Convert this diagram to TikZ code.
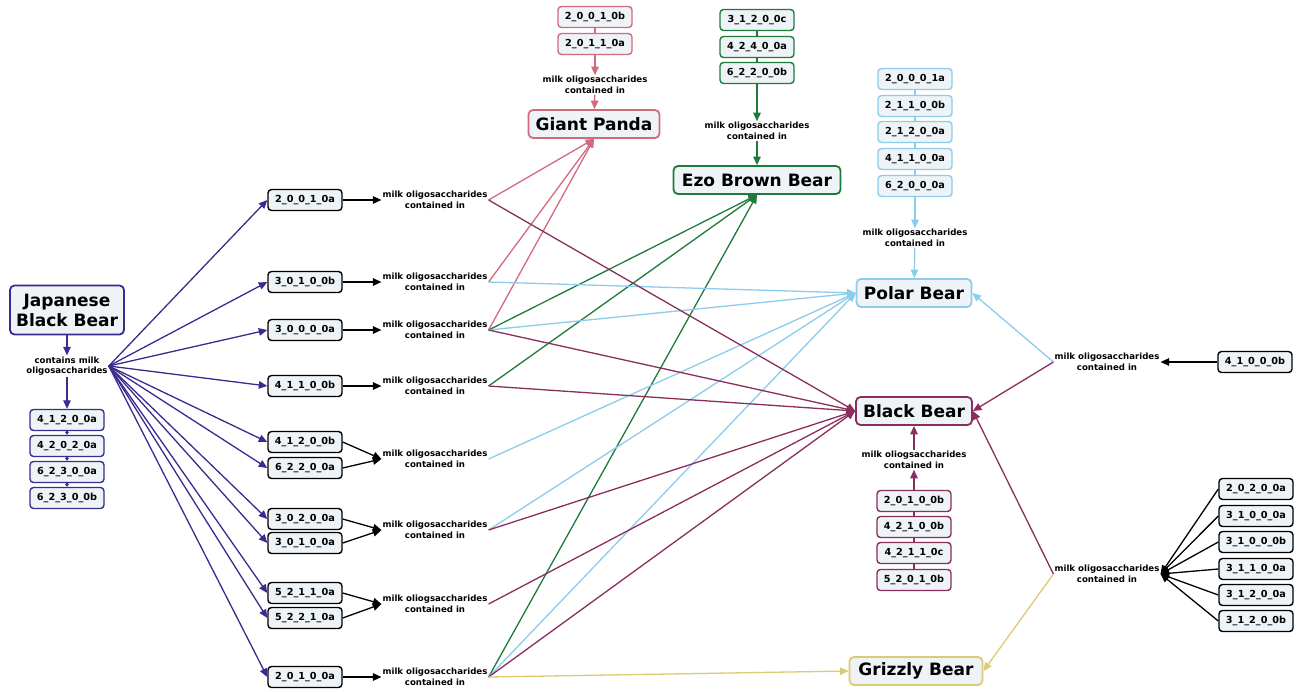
\documentclass[tikz,border=0pt]{standalone}
\usepackage{fontspec}
\setmainfont{DejaVu Sans}
\usetikzlibrary{arrows.meta}
\definecolor{jbbc}{HTML}{3A2C8F}
\definecolor{pandac}{HTML}{D46A7E}
\definecolor{ezoc}{HTML}{1E7B3C}
\definecolor{polarc}{HTML}{8DCDEB}
\definecolor{blackc}{HTML}{8A2E5E}
\definecolor{grizc}{HTML}{DCCB72}
\definecolor{boxfill}{HTML}{EDF3F6}
\tikzset{
  item/.style={draw, rounded corners=3.5pt, fill=boxfill, minimum width=74pt, minimum height=21pt, inner sep=1pt, line width=1.4pt, font=\fontsize{9.7}{11}\selectfont\bfseries},
  bear/.style={draw, rounded corners=4.5pt, fill=boxfill, line width=1.8pt, minimum height=28pt, inner sep=2pt, font=\fontsize{17}{20}\selectfont\bfseries, align=center},
  lbl/.style={font=\fontsize{8.6}{10.5}\selectfont\bfseries, align=center, inner sep=1pt},
  arr/.style={-{Triangle[length=8.5pt,width=7.5pt]}, line width=1.3pt},
  sarr/.style={-{Triangle[length=3pt,width=4pt]}, line width=1.2pt},
  link/.style={line width=1.2pt}
}
\begin{document}
\begin{tikzpicture}[x=1pt,y=-1pt]
\useasboundingbox[fill=white] (0,0) rectangle (1306,691);

% Japanese Black Bear
\node[bear, draw=jbbc, minimum width=114pt, minimum height=49pt] (jbb) at (67,310) {Japanese\\Black Bear};
\node[lbl] (jl) at (67,366) {contains milk\\oligosaccharides};
\node[item, draw=jbbc] (j1) at (67,420) {4\_1\_2\_0\_0a};
\node[item, draw=jbbc] (j2) at (67,446) {4\_2\_0\_2\_0a};
\node[item, draw=jbbc] (j3) at (67,472) {6\_2\_3\_0\_0a};
\node[item, draw=jbbc] (j4) at (67,498) {6\_2\_3\_0\_0b};
\draw[arr, jbbc] (jbb) -- (jl);
\draw[arr, jbbc] (jl) -- (j1);
\draw[sarr, jbbc] (j1) -- (j2);
\draw[sarr, jbbc] (j2) -- (j3);
\draw[sarr, jbbc] (j3) -- (j4);

% middle column
\node[item] (m1) at (305,200) {2\_0\_0\_1\_0a};
\node[item] (m2) at (305,282) {3\_0\_1\_0\_0b};
\node[item] (m3) at (305,330) {3\_0\_0\_0\_0a};
\node[item] (m4) at (305,386) {4\_1\_1\_0\_0b};
\node[item] (m5) at (305,442) {4\_1\_2\_0\_0b};
\node[item] (m6) at (305,468) {6\_2\_2\_0\_0a};
\node[item] (m7) at (305,519) {3\_0\_2\_0\_0a};
\node[item] (m8) at (305,543) {3\_0\_1\_0\_0a};
\node[item] (m9) at (305,593) {5\_2\_1\_1\_0a};
\node[item] (m10) at (305,618) {5\_2\_2\_1\_0a};
\node[item] (m11) at (305,677) {2\_0\_1\_0\_0a};
\foreach \n in {m1,m2,m3,m4,m5,m6,m7,m8,m9,m10,m11}
  \draw[arr, jbbc] (jl.east) -- (\n.west);

\node[lbl] (L1) at (435,200) {milk oligosaccharides\\contained in};
\node[lbl] (L2) at (435,282) {milk oligosaccharides\\contained in};
\node[lbl] (L3) at (435,330) {milk oligosaccharides\\contained in};
\node[lbl] (L4) at (435,386) {milk oligosaccharides\\contained in};
\node[lbl] (L5) at (435,459) {milk oligosaccharides\\contained in};
\node[lbl] (L6) at (435,530) {milk oligosaccharides\\contained in};
\node[lbl] (L7) at (435,604) {milk oliogsaccharides\\contained in};
\node[lbl] (L8) at (435,677) {milk oligosaccharides\\contained in};
\draw[arr] (m1.east) -- (L1.west);
\draw[arr] (m2.east) -- (L2.west);
\draw[arr] (m3.east) -- (L3.west);
\draw[arr] (m4.east) -- (L4.west);
\draw[arr] (m5.east) -- (L5.west);
\draw[arr] (m6.east) -- (L5.west);
\draw[arr] (m7.east) -- (L6.west);
\draw[arr] (m8.east) -- (L6.west);
\draw[arr] (m9.east) -- (L7.west);
\draw[arr] (m10.east) -- (L7.west);
\draw[arr] (m11.east) -- (L8.west);

% Giant Panda
\node[item, draw=pandac] (p1) at (595,17) {2\_0\_0\_1\_0b};
\node[item, draw=pandac] (p2) at (595,44) {2\_0\_1\_1\_0a};
\node[lbl] (pl) at (595,85) {milk oligosaccharides\\contained in};
\node[bear, draw=pandac, minimum width=131pt] (panda) at (594,124) {Giant Panda};
\draw[link, pandac] (p1) -- (p2);
\draw[arr, pandac] (p2) -- (pl);
\draw[arr, pandac] (pl) -- (panda);

% Ezo Brown Bear
\node[item, draw=ezoc] (e1) at (757,20) {3\_1\_2\_0\_0c};
\node[item, draw=ezoc] (e2) at (757,47) {4\_2\_4\_0\_0a};
\node[item, draw=ezoc] (e3) at (757,73) {6\_2\_2\_0\_0b};
\node[lbl] (el) at (757,131) {milk oligosaccharides\\contained in};
\node[bear, draw=ezoc, minimum width=167pt] (ezo) at (757,180) {Ezo Brown Bear};
\draw[link, ezoc] (e1) -- (e2);
\draw[link, ezoc] (e2) -- (e3);
\draw[arr, ezoc] (e3) -- (el);
\draw[arr, ezoc] (el) -- (ezo);

% Polar Bear
\node[item, draw=polarc] (q1) at (915,79) {2\_0\_0\_0\_1a};
\node[item, draw=polarc] (q2) at (915,106) {2\_1\_1\_0\_0b};
\node[item, draw=polarc] (q3) at (915,132) {2\_1\_2\_0\_0a};
\node[item, draw=polarc] (q4) at (915,159) {4\_1\_1\_0\_0a};
\node[item, draw=polarc] (q5) at (915,186) {6\_2\_0\_0\_0a};
\node[lbl] (ql) at (915,238) {milk oligosaccharides\\contained in};
\node[bear, draw=polarc, minimum width=115pt] (polar) at (914,293) {Polar Bear};
\draw[link, polarc] (q1) -- (q2);
\draw[link, polarc] (q2) -- (q3);
\draw[link, polarc] (q3) -- (q4);
\draw[link, polarc] (q4) -- (q5);
\draw[arr, polarc] (q5) -- (ql);
\draw[arr, polarc] (ql) -- (polar);

% Black Bear
\node[bear, draw=blackc, minimum width=116pt] (black) at (914,411) {Black Bear};
\node[lbl] (bl) at (914,460) {milk oliogsaccharides\\contained in};
\node[item, draw=blackc] (b1) at (914,501) {2\_0\_1\_0\_0b};
\node[item, draw=blackc] (b2) at (914,527) {4\_2\_1\_0\_0b};
\node[item, draw=blackc] (b3) at (914,553) {4\_2\_1\_1\_0c};
\node[item, draw=blackc] (b4) at (914,580) {5\_2\_0\_1\_0b};
\draw[link, blackc] (b1) -- (b2);
\draw[link, blackc] (b2) -- (b3);
\draw[link, blackc] (b3) -- (b4);
\draw[arr, blackc] (b1) -- (bl);
\draw[arr, blackc] (bl) -- (black);

% Grizzly Bear
\node[bear, draw=grizc, minimum width=133pt] (griz) at (916,671) {Grizzly Bear};

% right side
\node[lbl] (r1) at (1107,362) {milk oligosaccharides\\contained in};
\node[item] (ra) at (1255,362) {4\_1\_0\_0\_0b};
\draw[arr] (ra.west) -- (r1.east);
\node[lbl] (r2) at (1107,574) {milk oligosaccharides\\contained in};
\node[item] (rb1) at (1256,489) {2\_0\_2\_0\_0a};
\node[item] (rb2) at (1256,516) {3\_1\_0\_0\_0a};
\node[item] (rb3) at (1256,542) {3\_1\_0\_0\_0b};
\node[item] (rb4) at (1256,569) {3\_1\_1\_0\_0a};
\node[item] (rb5) at (1256,595) {3\_1\_2\_0\_0a};
\node[item] (rb6) at (1256,621) {3\_1\_2\_0\_0b};
\foreach \n in {rb1,rb2,rb3,rb4,rb5,rb6}
  \draw[arr] (\n.west) -- (r2.east);

% coloured connectors
\foreach \s in {L1,L2,L3} \draw[arr, pandac] (\s.east) -- (panda.south);
\foreach \s in {L3,L4,L8} \draw[arr, ezoc] (\s.east) -- (ezo.south);
\foreach \s in {L2,L3,L5,L6,L8} \draw[arr, polarc] (\s.east) -- (polar.west);
\foreach \s in {L1,L3,L4,L6,L7,L8} \draw[arr, blackc] (\s.east) -- (black.west);
\draw[arr, grizc] (L8.east) -- (griz.west);
\draw[arr, polarc] (r1.west) -- (polar.east);
\draw[arr, blackc] (r1.west) -- (black.east);
\draw[arr, blackc] (r2.west) -- (black.east);
\draw[arr, grizc] (r2.west) -- (griz.east);
\end{tikzpicture}
\end{document}
